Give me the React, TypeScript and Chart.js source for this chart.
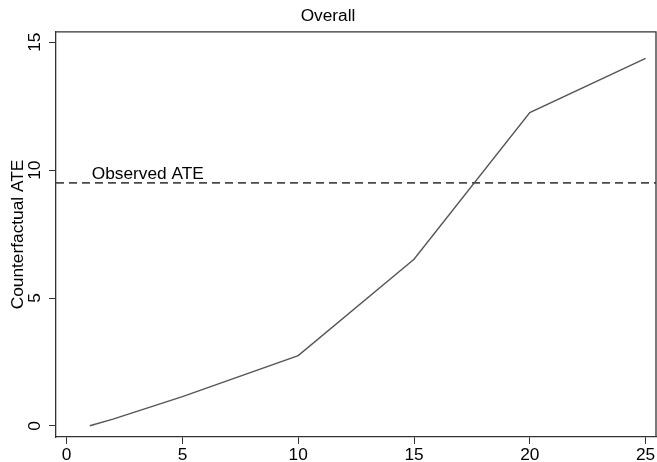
import React, { useEffect, useRef } from "react";
import { Chart, registerables } from "chart.js";

Chart.register(...registerables);

const doses = [1, 2, 5, 10, 15, 20, 25];
const counterfactualATE = [0.01, 0.27, 1.15, 2.75, 6.52, 12.25, 14.37];
const observedATE = 9.5;
const xTicks = [0, 5, 10, 15, 20, 25];
const yTicks = [0, 5, 10, 15];
const xRange = [-0.46, 25.45];
const yRange = [-0.43, 15.4];
const titleText = "Overall";
const yTitleText = "Counterfactual ATE";
const refLabel = "Observed ATE";
const refLabelAt = 1;

const FONT = "'Liberation Sans', Arial, sans-serif";
const FS = 17.3;

const framePlugin = {
  id: "frame",
  afterDraw(chart: any) {
    const { ctx, chartArea, scales } = chart;
    const { left, right, top, bottom } = chartArea;
    ctx.save();
    ctx.strokeStyle = "#333";
    ctx.lineWidth = 1.3;
    ctx.beginPath();
    ctx.moveTo(left, top);
    ctx.lineTo(right, top);
    ctx.lineTo(right, bottom);
    ctx.stroke();

    const y = scales.y;
    const x = scales.x;
    ctx.fillStyle = "#000";
    ctx.font = `${FS}px ${FONT}`;
    ctx.textAlign = "center";
    ctx.textBaseline = "middle";
    y.ticks.forEach((t: any) => {
      const py = y.getPixelForValue(t.value);
      ctx.save();
      ctx.translate(35, py);
      ctx.rotate(-Math.PI / 2);
      ctx.fillText(String(t.value), 0, 0);
      ctx.restore();
    });

    ctx.textAlign = "left";
    ctx.textBaseline = "alphabetic";
    ctx.fillText(refLabel, x.getPixelForValue(refLabelAt) + 2, y.getPixelForValue(observedATE) - 3.5);
    ctx.restore();
  },
};

export default function App() {
  const ref = useRef<HTMLCanvasElement | null>(null);
  useEffect(() => {
    document.body.style.margin = "0";
    const canvas = ref.current;
    if (!canvas) return;
    const chart = new Chart(canvas, {
      type: "line",
      data: {
        datasets: [
          {
            label: "ATE",
            data: doses.map((d, i) => ({ x: d, y: counterfactualATE[i] })),
            borderColor: "#555",
            borderWidth: 1.4,
            pointRadius: 0,
            tension: 0,
            fill: false,
          },
          {
            label: "Observed",
            data: [
              { x: xRange[0], y: observedATE },
              { x: xRange[1], y: observedATE },
            ],
            borderColor: "#4a4a4a",
            borderWidth: 1.6,
            borderDash: [8, 5],
            pointRadius: 0,
            fill: false,
          },
        ],
      },
      options: {
        animation: false,
        responsive: false,
        devicePixelRatio: 1,
        layout: { padding: { left: 0, right: 1, top: 0, bottom: 0 } },
        plugins: {
          legend: { display: false },
          tooltip: { enabled: false },
          title: {
            display: true,
            text: titleText,
            color: "#000",
            font: { family: FONT, size: FS, weight: "normal" },
            padding: { top: 6.1, bottom: 5.1 },
          },
        },
        scales: {
          x: {
            type: "linear",
            min: xRange[0],
            max: xRange[1],
            afterBuildTicks: (s: any) => {
              s.ticks = xTicks.map((v) => ({ value: v }));
            },
            afterFit: (s: any) => {
              s.height = 25;
            },
            grid: {
              drawOnChartArea: false,
              drawTicks: true,
              tickLength: 7,
              tickColor: "#333",
              tickWidth: 1,
            },
            border: { display: true, color: "#333", width: 1.3 },
            ticks: {
              color: "#000",
              font: { family: FONT, size: FS },
              padding: 0.5,
              maxRotation: 0,
              minRotation: 0,
            },
          },
          y: {
            type: "linear",
            min: yRange[0],
            max: yRange[1],
            afterBuildTicks: (s: any) => {
              s.ticks = yTicks.map((v) => ({ value: v }));
            },
            afterFit: (s: any) => {
              s.width = 56;
            },
            grid: {
              drawOnChartArea: false,
              drawTicks: true,
              tickLength: 7,
              tickColor: "#333",
              tickWidth: 1,
            },
            border: { display: true, color: "#333", width: 1.3 },
            ticks: { display: false },
            title: {
              display: true,
              text: yTitleText,
              color: "#000",
              font: { family: FONT, size: FS },
              padding: { top: 7.6, bottom: 0 },
            },
          },
        },
      },
      plugins: [framePlugin],
    });
    return () => chart.destroy();
  }, []);
  return (
    <div style={{ position: "fixed", left: 0, top: 0, width: 657, height: 462 }}>
      <canvas ref={ref} width={657} height={462} style={{ display: "block" }} />
    </div>
  );
}
